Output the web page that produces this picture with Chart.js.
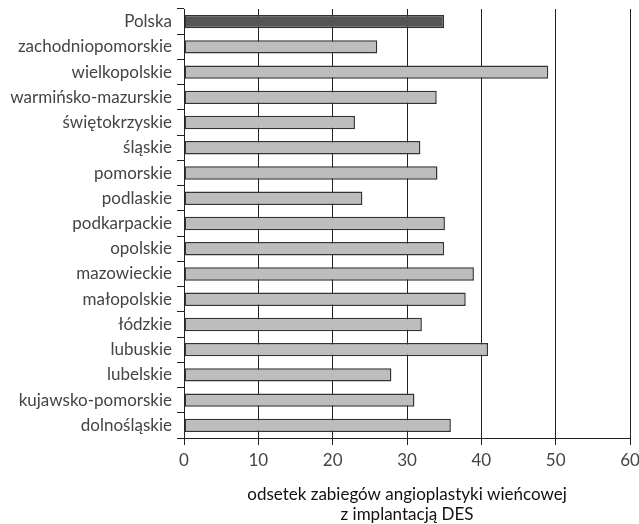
<!DOCTYPE html>
<html>
<head>
<meta charset="utf-8">
<script src="https://cdn.jsdelivr.net/npm/chart.js@4"></script>
<style>
  html, body { margin: 0; padding: 0; background: #fff; }
</style>
</head>
<body>
<canvas id="myChart" width="639" height="524"></canvas>
<script>
const regions = [
  'Polska', 'zachodniopomorskie', 'wielkopolskie', 'warmińsko-mazurskie',
  'świętokrzyskie', 'śląskie', 'pomorskie', 'podlaskie', 'podkarpackie',
  'opolskie', 'mazowieckie', 'małopolskie', 'łódzkie', 'lubuskie',
  'lubelskie', 'kujawsko-pomorskie', 'dolnośląskie'
];
const desShare = [35, 26, 49, 34, 23, 31.8, 34.1, 24, 35.1, 35, 39, 37.9, 32, 40.9, 27.9, 31, 35.9];
const xTicks = [0, 10, 20, 30, 40, 50, 60];
const axisTitle = ['odsetek zabiegów angioplastyki wieńcowej', 'z implantacją DES'];

const fontFamily = 'Lato, "Open Sans", sans-serif';
const barColors = regions.map(r => r === 'Polska' ? '#555555' : '#bdbdbd');

const ctx = document.getElementById('myChart').getContext('2d');
const chart = new Chart(ctx, {
  type: 'bar',
  data: {
    labels: regions,
    datasets: [{
      data: desShare,
      backgroundColor: barColors,
      borderColor: '#333333',
      borderWidth: 1.5,
      borderSkipped: false,
      barPercentage: 0.53,
      categoryPercentage: 1
    }]
  },
  options: {
    indexAxis: 'y',
    responsive: false,
    animation: false,
    layout: { padding: { top: 9, right: 0, left: 0, bottom: 0 } },
    plugins: { legend: { display: false }, tooltip: { enabled: false } },
    scales: {
      x: {
        min: 0,
        max: 60,
        afterBuildTicks: scale => { scale.ticks = xTicks.map(v => ({ value: v })); },
        afterFit: scale => {
          scale.height = 86;
          scale.paddingLeft = 0;
          scale.paddingRight = 9;
        },
        grid: { color: '#222', lineWidth: 1, tickLength: 7, drawTicks: true },
        border: { color: '#222', width: 1 },
        ticks: { color: '#444', padding: 5, font: { family: fontFamily, size: 17 } },
        title: {
          display: true,
          text: axisTitle,
          color: '#111',
          padding: { top: 15, bottom: 0 },
          font: { family: fontFamily, size: 17, lineHeight: 1.15 }
        }
      },
      y: {
        afterFit: scale => {
          scale.width = 184;
          scale.paddingTop = 0;
          scale.paddingBottom = 0;
        },
        grid: { offset: true, drawOnChartArea: false, color: '#222', tickLength: 7 },
        border: { color: '#222', width: 1 },
        ticks: { color: '#444', padding: 5, font: { family: fontFamily, size: 17 } }
      }
    }
  }
});
</script>
</body>
</html>
